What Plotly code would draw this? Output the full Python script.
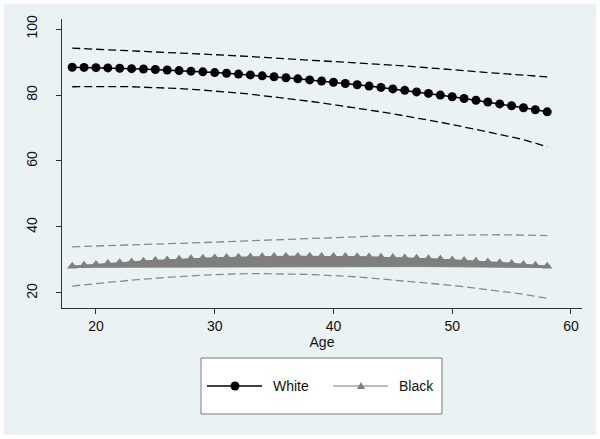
import plotly.graph_objects as go

ages = list(range(18, 59))

white_fit = [88.40, 88.35, 88.28, 88.20, 88.10, 87.99, 87.87, 87.72, 87.57, 87.40,
             87.22, 87.02, 86.80, 86.58, 86.33, 86.08, 85.81, 85.52, 85.22, 84.90,
             84.57, 84.23, 83.87, 83.49, 83.11, 82.70, 82.29, 81.85, 81.41, 80.94,
             80.47, 79.98, 79.47, 78.95, 78.42, 77.87, 77.30, 76.73, 76.13, 75.53, 74.90]
white_hi = [94.2, 94.05, 93.9, 93.75, 93.6, 93.45, 93.3, 93.15, 93.0, 92.8,
            92.6, 92.45, 92.25, 92.05, 91.85, 91.65, 91.45, 91.25, 91.05, 90.85,
            90.65, 90.45, 90.25, 90.05, 89.8, 89.55, 89.3, 89.05, 88.8, 88.55,
            88.3, 88.0, 87.7, 87.4, 87.1, 86.8, 86.5, 86.2, 85.9, 85.7, 85.5]
white_lo = [82.5, 82.55, 82.6, 82.6, 82.55, 82.5, 82.4, 82.3, 82.15, 81.95,
            81.75, 81.5, 81.25, 80.95, 80.6, 80.25, 79.85, 79.45, 79.0, 78.55,
            78.1, 77.6, 77.1, 76.6, 76.05, 75.5, 74.9, 74.3, 73.7, 73.05,
            72.4, 71.75, 71.05, 70.35, 69.6, 68.85, 68.05, 67.25, 66.45, 65.4, 64.3]

black_fit = [28.10, 28.39, 28.67, 28.93, 29.18, 29.41, 29.63, 29.83, 30.02, 30.19,
             30.35, 30.49, 30.62, 30.73, 30.83, 30.91, 30.98, 31.03, 31.07, 31.09,
             31.10, 31.09, 31.07, 31.03, 30.98, 30.91, 30.83, 30.73, 30.62, 30.49,
             30.35, 30.19, 30.02, 29.83, 29.63, 29.41, 29.18, 28.93, 28.67, 28.39, 28.10]
black_band_lo = [27.7, 27.75, 27.8, 27.85, 27.9, 27.9, 27.95, 27.95, 28.0, 28.0,
                 28.0, 28.0, 28.0, 28.0, 28.0, 28.0, 28.0, 28.0, 28.0, 28.0,
                 28.0, 28.0, 28.0, 28.0, 28.0, 28.0, 28.0, 28.0, 28.0, 28.0,
                 28.0, 28.0, 27.95, 27.95, 27.9, 27.9, 27.85, 27.85, 27.8, 27.75, 27.7]
black_hi = [34.0, 34.1, 34.2, 34.3, 34.4, 34.5, 34.6, 34.7, 34.85, 35.0,
            35.1, 35.25, 35.4, 35.55, 35.7, 35.85, 36.0, 36.15, 36.3, 36.45,
            36.6, 36.75, 36.9, 37.0, 37.1, 37.2, 37.3, 37.35, 37.4, 37.45,
            37.5, 37.55, 37.6, 37.6, 37.6, 37.65, 37.65, 37.6, 37.55, 37.5, 37.4]
black_lo = [22.1, 22.5, 22.9, 23.3, 23.6, 23.9, 24.2, 24.5, 24.8, 25.0,
            25.2, 25.4, 25.6, 25.7, 25.8, 25.9, 25.9, 25.9, 25.8, 25.7,
            25.6, 25.5, 25.3, 25.1, 24.9, 24.6, 24.3, 24.0, 23.7, 23.4,
            23.1, 22.7, 22.3, 21.9, 21.5, 21.1, 20.6, 20.1, 19.6, 19.0, 18.4]

x_ticks = [20, 30, 40, 50, 60]
y_ticks = [20, 40, 60, 80, 100]
series_names = ["White", "Black"]

BG = "#eaf2f3"
GREY = "#7f7f7f"
DASH = "8px,4px"
FONT = "Arial, Liberation Sans, Helvetica, sans-serif"

fig = go.Figure()

# confidence bands (dashed)
fig.add_trace(go.Scatter(x=ages, y=white_hi, mode="lines", showlegend=False, hoverinfo="skip",
                         line=dict(color="black", width=1.3, dash=DASH)))
fig.add_trace(go.Scatter(x=ages, y=white_lo, mode="lines", showlegend=False, hoverinfo="skip",
                         line=dict(color="black", width=1.3, dash=DASH)))
fig.add_trace(go.Scatter(x=ages, y=black_hi, mode="lines", showlegend=False, hoverinfo="skip",
                         line=dict(color="#8a8a8a", width=1.3, dash=DASH)))
fig.add_trace(go.Scatter(x=ages, y=black_lo, mode="lines", showlegend=False, hoverinfo="skip",
                         line=dict(color="#8a8a8a", width=1.3, dash=DASH)))

# thick band beneath Black markers
fig.add_trace(go.Scatter(x=ages + ages[::-1], y=black_fit + black_band_lo[::-1],
                         mode="lines", fill="toself", fillcolor=GREY, showlegend=False,
                         hoverinfo="skip", line=dict(color=GREY, width=1)))

fig.add_trace(go.Scatter(x=ages, y=white_fit, mode="lines+markers", name=series_names[0],
                         showlegend=False,
                         line=dict(color="black", width=1.5),
                         marker=dict(symbol="circle", size=9, color="black")))
fig.add_trace(go.Scatter(x=ages, y=black_fit, mode="lines+markers", name=series_names[1],
                         showlegend=False,
                         line=dict(color=GREY, width=1.2),
                         marker=dict(symbol="triangle-up", size=9, color=GREY)))

# manual legend (Stata-style box)
L, T, PW, PH = 62, 19, 520, 289


def xp(px):
    return (px - L) / PW


def yp(py):
    return (T + PH - py) / PH


shapes = [
    dict(type="rect", xref="paper", yref="paper", x0=xp(4), x1=xp(596), y0=yp(435), y1=yp(4),
         fillcolor=BG, line=dict(width=0), layer="below"),
    dict(type="rect", xref="paper", yref="paper", x0=xp(201), x1=xp(442), y0=yp(414), y1=yp(358),
         fillcolor="white", line=dict(color="#7a7a7a", width=1), layer="below"),
    dict(type="line", xref="paper", yref="paper", x0=xp(207), x1=xp(262), y0=yp(386), y1=yp(386),
         line=dict(color="black", width=1.5)),
    dict(type="circle", xref="paper", yref="paper", x0=xp(230.5), x1=xp(239.5),
         y0=yp(390.5), y1=yp(381.5), fillcolor="black", line=dict(color="black", width=0)),
    dict(type="line", xref="paper", yref="paper", x0=xp(333), x1=xp(388), y0=yp(386), y1=yp(386),
         line=dict(color=GREY, width=1.2)),
    dict(type="path", xref="paper", yref="paper",
         path=f"M {xp(361)} {yp(382)} L {xp(357)} {yp(389)} L {xp(365)} {yp(389)} Z",
         fillcolor=GREY, line=dict(color=GREY, width=0)),
]

annotations = [
    dict(text=series_names[0], xref="paper", yref="paper", x=xp(271), y=yp(386),
         xanchor="left", yanchor="middle", showarrow=False, font=dict(size=14, color="#111")),
    dict(text=series_names[1], xref="paper", yref="paper", x=xp(397), y=yp(386),
         xanchor="left", yanchor="middle", showarrow=False, font=dict(size=14, color="#111")),
]

fig.update_layout(
    width=600, height=439,
    margin=dict(l=62, r=18, t=19, b=131),
    paper_bgcolor="white",
    plot_bgcolor="white",
    font=dict(family=FONT, size=14, color="#111"),
    shapes=shapes,
    annotations=annotations,
    showlegend=False,
    xaxis=dict(range=[17.14, 60.93], tickvals=x_ticks, showgrid=False, zeroline=False,
               showline=True, linecolor="#333", linewidth=1, ticks="outside", ticklen=5,
               tickcolor="#333", title=dict(text="Age", standoff=0, font=dict(size=14))),
    yaxis=dict(range=[15.45, 103.03], tickvals=y_ticks, showgrid=True, gridcolor=BG, gridwidth=1,
               zeroline=False, showline=True, linecolor="#333", linewidth=1, ticks="outside",
               ticklen=5, tickcolor="#333", tickangle=-90, ticklabelstandoff=13),
)

fig.write_html("out.html", config={"displayModeBar": False},
               post_script="document.body.style.margin='0';document.body.style.padding='0';")
